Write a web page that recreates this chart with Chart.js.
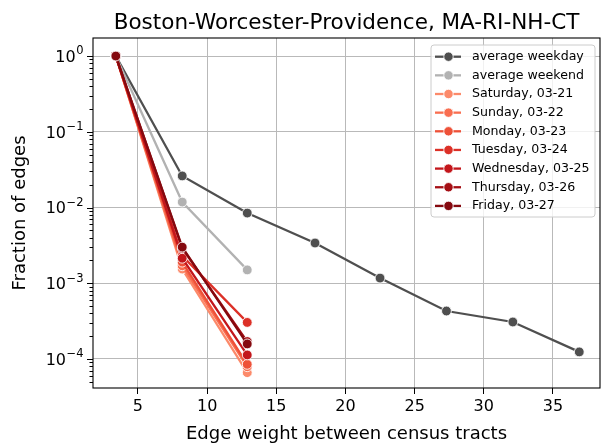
<!DOCTYPE html>
<html>
<head>
<meta charset="utf-8">
<script src="https://cdn.jsdelivr.net/npm/chart.js@4.4.1/dist/chart.umd.min.js"></script>
<style>
  html, body { margin: 0; padding: 0; background: #fff; }
</style>
</head>
<body>
<canvas id="chart" width="610" height="445"></canvas>
<script>
// chart text
const titleText = 'Boston-Worcester-Providence, MA-RI-NH-CT';
const xLabel = 'Edge weight between census tracts';
const yLabel = 'Fraction of edges';

// tick labels
const xTicks = [5, 10, 15, 20, 25, 30, 35];
const yExponents = [0, -1, -2, -3, -4];

// averages
const weekdayX = [3.4, 8.2, 12.9, 17.8, 22.5, 27.3, 32.1, 36.9];
const weekdayY = [1, 0.0261, 0.00845, 0.0034, 0.00117, 0.00043, 0.000308, 0.000124];
const weekendX = [3.4, 8.2, 12.9];
const weekendY = [1, 0.0118, 0.0015];

// single days
const dayX = [3.4, 8.2, 12.9];
const dayLabels = ['Saturday, 03-21', 'Sunday, 03-22', 'Monday, 03-23', 'Tuesday, 03-24',
                   'Wednesday, 03-25', 'Thursday, 03-26', 'Friday, 03-27'];
const satY = [1, 0.00154, 0.000066];
const sunY = [1, 0.0017, 0.0000790];
const monY = [1, 0.0019, 0.0000850];
const tueY = [1, 0.0023, 0.000304];
const wedY = [1, 0.00214, 0.000113];
const thuY = [1, 0.0029, 0.000170];
const friY = [1, 0.0030, 0.000158];
const dayValues = [satY, sunY, monY, tueY, wedY, thuY, friY];

const weekdayColor = '#4f4f4f';
const weekendColor = '#b2b2b2';
const dayColors = ['#fc8a6a', '#f96e50', '#ee5138', '#dc3027', '#c3161b', '#a50f15', '#85090f'];

Chart.defaults.font.family = "'DejaVu Sans'";
Chart.defaults.color = '#000';

function pts(xs, ys) {
    return xs.map((x, i) => ({ x: x, y: ys[i] }));
}

function lineSet(label, color, data) {
    return {
        label: label,
        data: data,
        borderColor: color,
        backgroundColor: color,
        pointBackgroundColor: color,
        pointBorderColor: 'rgba(255,255,255,0.85)',
        pointBorderWidth: 1,
        pointRadius: 4.9,
        borderWidth: 2.3,
        tension: 0
    };
}

const datasets = [
    lineSet('average weekday', weekdayColor, pts(weekdayX, weekdayY)),
    lineSet('average weekend', weekendColor, pts(weekendX, weekendY))
];
dayLabels.forEach((lab, i) => {
    datasets.push(lineSet(lab, dayColors[i], pts(dayX, dayValues[i])));
});
// matplotlib draws later lines on top
datasets.forEach((ds, i) => { ds.order = datasets.length - i; });

function isMajor(v) {
    const l = Math.log10(v);
    return Math.abs(l - Math.round(l)) < 1e-9;
}

// spines, log tick marks, 10^n labels and the legend box
const decorPlugin = {
    id: 'decor',
    afterDraw(chart) {
        const ctx = chart.ctx;
        const area = chart.chartArea;
        const y = chart.scales.y;

        ctx.save();
        ctx.strokeStyle = '#000';
        ctx.lineWidth = 1.1;
        ctx.strokeRect(area.left, area.top, area.right - area.left, area.bottom - area.top);

        // y tick marks
        ctx.lineWidth = 1;
        y.ticks.forEach(t => {
            const py = Math.round(y.getPixelForValue(t.value)) + 0.5;
            const len = isMajor(t.value) ? 6 : 3.5;
            ctx.beginPath();
            ctx.moveTo(area.left - len, py);
            ctx.lineTo(area.left, py);
            ctx.stroke();
        });

        // y tick labels as 10 with superscript exponent
        ctx.fillStyle = '#000';
        ctx.textBaseline = 'alphabetic';
        ctx.textAlign = 'left';
        yExponents.forEach(e => {
            const py = y.getPixelForValue(Math.pow(10, e));
            const exp = e < 0 ? '\u2212' + (-e) : String(e);
            ctx.font = "16px 'DejaVu Sans'";
            const baseW = ctx.measureText('10').width;
            ctx.font = "11.5px 'DejaVu Sans'";
            const expW = ctx.measureText(exp).width;
            const right = area.left - 10;
            const x0 = right - expW - baseW;
            const base = py + 5.8;
            ctx.font = "16px 'DejaVu Sans'";
            ctx.fillText('10', x0, base);
            ctx.font = "11.5px 'DejaVu Sans'";
            ctx.fillText(exp, x0 + baseW + 0.5, base - 7.5);
        });

        // legend
        const bw = 164, bh = 172;
        const bx = area.right - 5 - bw;
        const by = area.top + 7;
        ctx.beginPath();
        ctx.roundRect(bx, by, bw, bh, 3);
        ctx.fillStyle = 'rgba(255,255,255,0.8)';
        ctx.fill();
        ctx.strokeStyle = '#cccccc';
        ctx.lineWidth = 1;
        ctx.stroke();

        ctx.font = "12.6px 'DejaVu Sans'";
        ctx.textBaseline = 'middle';
        chart.data.datasets.forEach((ds, i) => {
            const cy = by + 11.7 + i * 18.65;
            ctx.strokeStyle = ds.borderColor;
            ctx.lineWidth = 2.3;
            ctx.beginPath();
            ctx.moveTo(bx + 4, cy);
            ctx.lineTo(bx + 30, cy);
            ctx.stroke();
            ctx.beginPath();
            ctx.arc(bx + 17.5, cy, 4.7, 0, Math.PI * 2);
            ctx.fillStyle = ds.borderColor;
            ctx.fill();
            ctx.strokeStyle = 'rgba(255,255,255,0.85)';
            ctx.lineWidth = 1;
            ctx.stroke();
            ctx.fillStyle = '#000';
            ctx.fillText(ds.label, bx + 41, cy);
        });
        ctx.restore();
    }
};

new Chart(document.getElementById('chart'), {
    type: 'line',
    data: { datasets: datasets },
    plugins: [decorPlugin],
    options: {
        responsive: false,
        animation: false,
        devicePixelRatio: 1,
        events: [],
        layout: { padding: { left: 0, right: 10, top: 0, bottom: 0 } },
        plugins: {
            legend: { display: false },
            tooltip: { enabled: false },
            title: {
                display: true,
                text: titleText,
                fullSize: false,
                font: { size: 21.5, weight: 'normal' },
                color: '#000',
                padding: { top: 10.5, bottom: 1.7 }
            }
        },
        scales: {
            x: {
                type: 'linear',
                min: 1.75,
                max: 38.4,
                afterBuildTicks: axis => { axis.ticks = xTicks.map(v => ({ value: v })); },
                afterFit: axis => { axis.height = 57; },
                border: { display: false },
                grid: { color: '#b9b9b9', lineWidth: 1, tickColor: '#000', tickLength: 6 },
                ticks: { font: { size: 16 }, color: '#000', padding: 3, maxRotation: 0, autoSkip: false },
                title: { display: true, text: xLabel, font: { size: 18 }, color: '#000', padding: { top: 0, bottom: 0 } }
            },
            y: {
                type: 'logarithmic',
                min: 4.14e-5,
                max: 1.73,
                afterBuildTicks: axis => {
                    const list = [];
                    for (let e = -5; e <= 0; e++) {
                        for (let m = 1; m <= 9; m++) {
                            const v = m * Math.pow(10, e);
                            if (v >= axis.min && v <= axis.max) list.push({ value: v });
                        }
                    }
                    axis.ticks = list;
                },
                afterFit: axis => { axis.width = 93; },
                border: { display: false },
                grid: {
                    color: ctx => (ctx.tick && isMajor(ctx.tick.value)) ? '#b9b9b9' : 'rgba(0,0,0,0)',
                    lineWidth: 1,
                    drawTicks: false
                },
                ticks: { display: false },
                title: { display: true, text: yLabel, font: { size: 18 }, color: '#000', padding: { top: 10, bottom: 0 } }
            }
        }
    }
});
</script>
</body>
</html>
